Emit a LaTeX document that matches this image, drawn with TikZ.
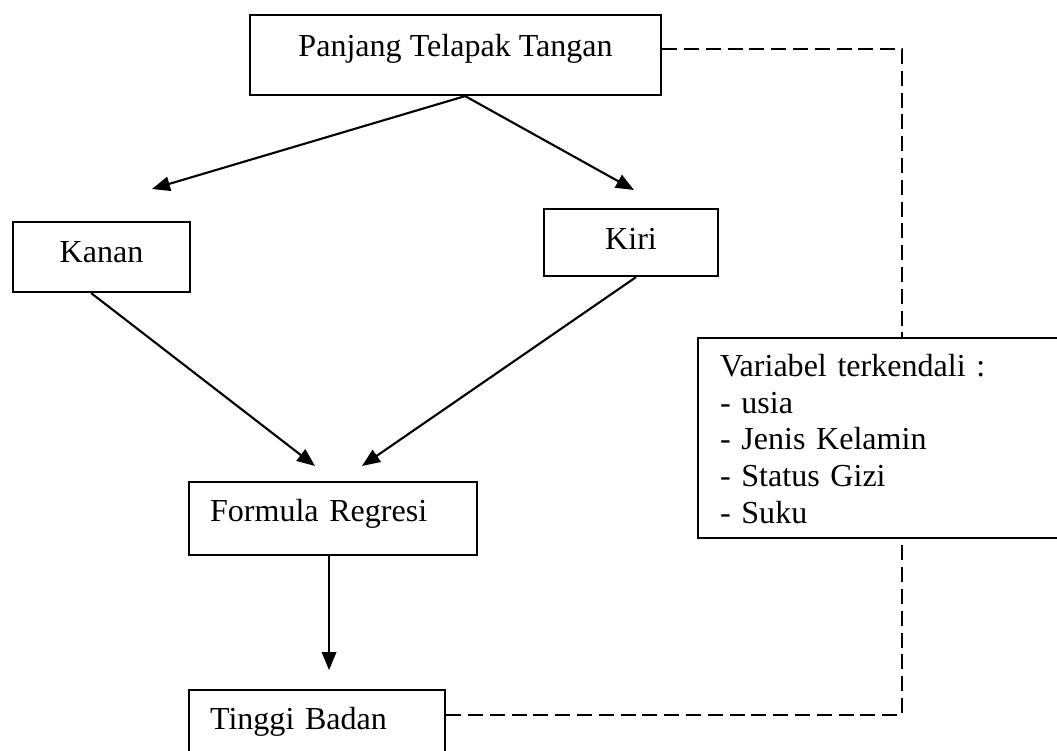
\documentclass[tikz,border=0pt]{standalone}
\usepackage{fontspec}
\setmainfont{Liberation Serif}
\usetikzlibrary{arrows.meta}
\begin{document}
\begin{tikzpicture}[
    every node/.style={draw,line width=1.5pt,inner ysep=0pt,font=\fontsize{22.8}{26.3}\selectfont},
    panah/.style={line width=1.5pt,-{Triangle[length=0.45cm,width=0.36cm]}},
    putus/.style={line width=1.5pt,dash pattern=on 0.375cm off 0.17cm}]
        \useasboundingbox (0,0) rectangle (26.425,18.775);

        \node[anchor=north west,minimum width=10.275cm,text height=1.025cm,text depth=0.975cm] (panjang) at (6.225,18.425) {Panjang Telapak Tangan};
        \node[anchor=north west,minimum width=4.425cm,text height=1cm,text depth=0.75cm] (kanan) at (0.3,13.25) {Kanan};
        \node[anchor=north west,minimum width=4.35cm,text height=1cm,text depth=0.675cm] (kiri) at (13.575,13.575) {Kiri};
        \node[anchor=north west,inner xsep=0.525cm,text width=6.15cm,align=left,text height=0.975cm,text depth=0.85cm] (formula) at (4.7,6.75) {Formula Regresi};
        \node[anchor=north west,inner xsep=0.525cm,text width=5.35cm,align=left,text height=0.975cm,text depth=1.3cm] (tinggi) at (4.7,1.55) {Tinggi Badan};
        \node[anchor=north west,inner xsep=0.55cm,text width=8.9cm,align=left,text height=0.95cm,text depth=4.05cm] (var) at (17.425,10.35) {Variabel terkendali :\\- usia\\- Jenis Kelamin\\- Status Gizi\\- Suku};

        \coordinate (tkanan) at (3.8,14.05);
        \coordinate (tkiri) at (15.85,14.025);
        \coordinate (tform1) at (7.875,7.125);
        \coordinate (tform2) at (9.05,7.125);
        \coordinate (ttinggi) at ([xshift=-0.1cm,yshift=-2.85cm]formula.south);

        \draw[panah] ([xshift=0.24cm]panjang.south) -- (tkanan);
        \draw[panah] ([xshift=0.24cm]panjang.south) -- (tkiri);
        \draw[panah] ([xshift=-0.26cm]kanan.south) -- (tform1);
        \draw[panah] ([xshift=0.125cm]kiri.south) -- (tform2);
        \draw[panah] ([xshift=-0.1cm]formula.south) -- (ttinggi);
        \draw[putus] ([yshift=0.15cm]panjang.east) -| ([xshift=5.125cm]var.north west);
        \draw[putus] ([yshift=-0.65cm]tinggi.north east) -| ([xshift=5.125cm]var.south west);
    \end{tikzpicture}
\end{document}
